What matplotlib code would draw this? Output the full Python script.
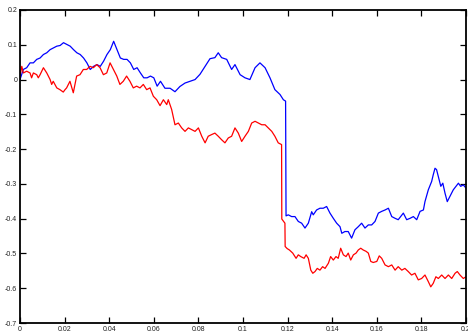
import matplotlib
matplotlib.use("Agg")
import matplotlib.pyplot as plt

# ---- data ----
blue_x = [0, 0.0015, 0.003, 0.0045, 0.006, 0.0075, 0.009, 0.0105, 0.012, 0.0135,
          0.015, 0.0165, 0.018, 0.0195, 0.021, 0.0225, 0.024, 0.0255, 0.027, 0.0285,
          0.03, 0.0315, 0.033, 0.0345, 0.036, 0.0375, 0.039, 0.0405, 0.042, 0.0435,
          0.045, 0.0465, 0.048, 0.0495, 0.051, 0.0525, 0.054, 0.0555, 0.057, 0.0585,
          0.06, 0.0615, 0.063,
          0.0650, 0.0673, 0.0695, 0.0717, 0.0740, 0.0762, 0.0785, 0.0807, 0.0830, 0.0852,
          0.0874, 0.0889, 0.0904, 0.0927, 0.0949, 0.0964, 0.0987, 0.1009, 0.1031, 0.1054,
          0.1076, 0.1099, 0.1121, 0.1143, 0.1166, 0.1181, 0.1191,
          0.1193, 0.1203, 0.1218, 0.1233, 0.1248, 0.1263, 0.1278, 0.1293, 0.1308, 0.1315,
          0.1330, 0.1345, 0.1360, 0.1375, 0.1390, 0.1405, 0.1420, 0.1435, 0.1443, 0.1457,
          0.1472, 0.1487, 0.1502, 0.1517, 0.1532, 0.1547, 0.1562, 0.1577, 0.1592, 0.1607,
          0.1622, 0.1637, 0.1652, 0.1667, 0.1682, 0.1696, 0.1719, 0.1734, 0.1749, 0.1764,
          0.1779, 0.1794, 0.1809, 0.1816, 0.1831, 0.1846, 0.1853, 0.1861, 0.1868, 0.1876,
          0.1887, 0.1896, 0.1906, 0.1916, 0.1928, 0.1943, 0.1955, 0.1966, 0.1976, 0.1988,
          0.2000]
blue_y = [0, 0.029, 0.034, 0.048, 0.048, 0.058, 0.062, 0.072, 0.077, 0.086,
          0.091, 0.096, 0.098, 0.106, 0.101, 0.096, 0.086, 0.077, 0.072, 0.062,
          0.048, 0.029, 0.038, 0.043, 0.038, 0.053, 0.072, 0.086, 0.110, 0.086,
          0.062, 0.058, 0.058, 0.048, 0.029, 0.034, 0.019, 0.005, 0.005, 0.010,
          0.005, -0.019, -0.005,
          -0.025, -0.025, -0.035, -0.020, -0.010, -0.005, 0.0, 0.015, 0.038, 0.060,
          0.063, 0.077, 0.063, 0.058, 0.029, 0.043, 0.014, 0.005, 0.0, 0.034,
          0.048, 0.034, 0.005, -0.029, -0.043, -0.058, -0.062,
          -0.392, -0.389, -0.394, -0.394, -0.408, -0.413, -0.427, -0.413, -0.380, -0.389,
          -0.375, -0.370, -0.370, -0.365, -0.384, -0.399, -0.413, -0.423, -0.442, -0.437,
          -0.437, -0.456, -0.432, -0.423, -0.413, -0.427, -0.418, -0.418, -0.408, -0.384,
          -0.379, -0.375, -0.370, -0.394, -0.399, -0.403, -0.384, -0.403, -0.399, -0.394,
          -0.403, -0.379, -0.375, -0.351, -0.317, -0.293, -0.274, -0.255, -0.259, -0.279,
          -0.307, -0.298, -0.327, -0.351, -0.336, -0.317, -0.307, -0.298, -0.307, -0.303,
          -0.312]

red_x = [0, 0.0008, 0.0015, 0.0030, 0.0045, 0.0052, 0.0060, 0.0075, 0.0082, 0.0090,
         0.0105, 0.0120, 0.0135, 0.0142, 0.0149, 0.0165, 0.0179, 0.0194, 0.0202, 0.0209,
         0.0224, 0.0239, 0.0254, 0.0269, 0.0284, 0.0299, 0.0314, 0.0329, 0.0344, 0.0359,
         0.0374, 0.0389, 0.0404, 0.0419, 0.0434, 0.0448, 0.0463, 0.0478, 0.0493, 0.0508,
         0.0523, 0.0538, 0.0553, 0.0568, 0.0583, 0.0598, 0.0613, 0.0628,
         0.0643, 0.0658, 0.0665, 0.0680, 0.0695, 0.0710, 0.0725, 0.0740, 0.0755, 0.0770,
         0.0785, 0.0800, 0.0815, 0.0830, 0.0844, 0.0860, 0.0874, 0.0889, 0.0904, 0.0919,
         0.0934, 0.0949, 0.0964, 0.0979, 0.0994, 0.1009, 0.1024, 0.1039, 0.1054, 0.1069,
         0.1084, 0.1099, 0.1113, 0.1129, 0.1143, 0.1158, 0.1173, 0.1174, 0.1188, 0.1189,
         0.1198, 0.1208, 0.1223, 0.1238, 0.1248, 0.1259, 0.1274, 0.1283, 0.1293, 0.1304,
         0.1313, 0.1323, 0.1333, 0.1345, 0.1357, 0.1368, 0.1383, 0.1393, 0.1405, 0.1417,
         0.1427, 0.1438, 0.1450, 0.1462, 0.1472, 0.1483, 0.1495, 0.1507, 0.1517, 0.1528,
         0.1539, 0.1552, 0.1562, 0.1573, 0.1584, 0.1600, 0.1611, 0.1622, 0.1637, 0.1652,
         0.1667, 0.1682, 0.1696, 0.1712, 0.1726, 0.1741, 0.1756, 0.1771, 0.1786, 0.1801,
         0.1816, 0.1831, 0.1842, 0.1853, 0.1865, 0.1876, 0.1891, 0.1906, 0.1921, 0.1936,
         0.1951, 0.1961, 0.1973, 0.1988, 0.2000]
red_y = [0.010, 0.038, 0.019, 0.024, 0.019, 0.005, 0.019, 0.014, 0.005, 0.014,
         0.034, 0.019, 0.0, -0.014, -0.005, -0.024, -0.029, -0.036, -0.029, -0.024,
         -0.005, -0.038, 0.010, 0.014, 0.029, 0.029, 0.038, 0.034, 0.043, 0.034,
         0.014, 0.019, 0.048, 0.029, 0.010, -0.014, -0.005, 0.010, -0.005, -0.024,
         -0.019, -0.024, -0.014, -0.029, -0.024, -0.048, -0.058, -0.075,
         -0.058, -0.072, -0.058, -0.086, -0.130, -0.125, -0.139, -0.149, -0.139, -0.144,
         -0.149, -0.139, -0.163, -0.182, -0.163, -0.158, -0.154, -0.163, -0.173, -0.182,
         -0.168, -0.163, -0.139, -0.154, -0.178, -0.163, -0.149, -0.125, -0.120, -0.125,
         -0.130, -0.130, -0.139, -0.149, -0.163, -0.182, -0.187, -0.401, -0.413, -0.480,
         -0.486, -0.490, -0.499, -0.514, -0.504, -0.509, -0.514, -0.504, -0.514, -0.548,
         -0.557, -0.552, -0.543, -0.548, -0.538, -0.543, -0.528, -0.509, -0.519, -0.509,
         -0.514, -0.485, -0.504, -0.509, -0.499, -0.519, -0.504, -0.499, -0.490, -0.485,
         -0.490, -0.494, -0.499, -0.523, -0.526, -0.523, -0.507, -0.514, -0.533, -0.538,
         -0.533, -0.548, -0.538, -0.548, -0.543, -0.552, -0.562, -0.557, -0.576, -0.572,
         -0.562, -0.581, -0.596, -0.586, -0.567, -0.572, -0.562, -0.572, -0.562, -0.572,
         -0.557, -0.552, -0.562, -0.572, -0.567]

x_ticks = [0, 0.02, 0.04, 0.06, 0.08, 0.1, 0.12, 0.14, 0.16, 0.18, 0.2]
x_tick_labels = ["0", "0.02", "0.04", "0.06", "0.08", "0.1", "0.12", "0.14", "0.16", "0.18", "0.2"]
y_ticks = [-0.7, -0.6, -0.5, -0.4, -0.3, -0.2, -0.1, 0, 0.1, 0.2]
y_tick_labels = ["-0.7", "-0.6", "-0.5", "-0.4", "-0.3", "-0.2", "-0.1", "0", "0.1", "0.2"]

# ---- figure ----
plt.rcParams['font.family'] = ['Liberation Sans Narrow', 'Liberation Sans', 'DejaVu Sans']
fig = plt.figure(figsize=(4.68, 3.33), dpi=100)
ax = fig.add_axes([20 / 468, 10 / 333, 446 / 468, 313 / 333])

ax.plot(blue_x, blue_y, color=(0, 0, 1), lw=0.9)
ax.plot(red_x, red_y, color=(1, 0, 0), lw=0.9)

ax.set_xlim(0, 0.2)
ax.set_ylim(-0.7, 0.2)
ax.set_xticks(x_ticks)
ax.set_xticklabels(x_tick_labels)
ax.set_yticks(y_ticks)
ax.set_yticklabels(y_tick_labels)
ax.tick_params(direction='in', length=4, width=0.9, labelsize=5, top=True, right=True,
               colors='black', labelcolor='#222222')
ax.tick_params(axis='x', pad=2)
ax.tick_params(axis='y', pad=2)
for s in ax.spines.values():
    s.set_linewidth(1.3)
    s.set_color('black')

fig.savefig("out.png", dpi=100)
